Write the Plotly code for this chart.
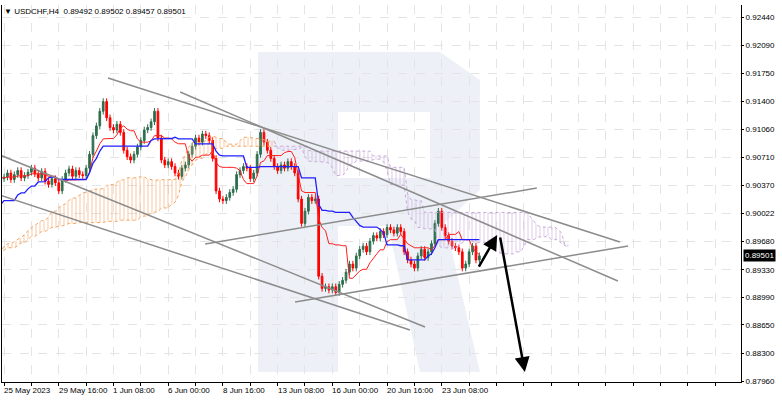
import numpy as np
import pandas as pd
import plotly.graph_objects as go

# H4 closes before the visible window (only feed the indicators)
history = [
    0.8935, 0.8930, 0.8938, 0.8944, 0.8940, 0.8948, 0.8955, 0.8950, 0.8960, 0.8966,
    0.8960, 0.8970, 0.8978, 0.8974, 0.8984, 0.8990, 0.8986, 0.8984, 0.8995, 0.9002,
    0.9000, 0.9010, 0.9018, 0.9014, 0.9024, 0.9030, 0.9025, 0.9034, 0.9040, 0.9036,
    0.9044, 0.9040, 0.9046, 0.9050, 0.9044, 0.9048, 0.9052, 0.9046, 0.9042, 0.9045,
]
# visible H4 closes, USDCHF
closes = [
    0.9047, 0.9052, 0.9044, 0.9050, 0.9055, 0.9046, 0.9049, 0.9053, 0.9058, 0.9051,
    0.9046, 0.9054, 0.9042, 0.9038, 0.9045, 0.9040, 0.9030, 0.9044, 0.9052, 0.9057,
    0.9048, 0.9055, 0.9050, 0.9049, 0.9058, 0.9075, 0.9098, 0.9110, 0.9128, 0.9140,
    0.9120, 0.9108, 0.9105, 0.9112, 0.9102, 0.9080, 0.9072, 0.9068, 0.9075, 0.9084,
    0.9092, 0.9105, 0.9108, 0.9115, 0.9128, 0.9095, 0.9068, 0.9062, 0.9066, 0.9060,
    0.9052, 0.9048, 0.9058, 0.9062, 0.9075, 0.9085, 0.9095, 0.9090, 0.9100, 0.9098,
    0.9092, 0.9070, 0.9030, 0.9020, 0.9018, 0.9022, 0.9028, 0.9032, 0.9050, 0.9055,
    0.9060, 0.9058, 0.9045, 0.9052, 0.9075, 0.9102, 0.9090, 0.9080, 0.9070, 0.9060,
    0.9055, 0.9062, 0.9058, 0.9066, 0.9060, 0.9052, 0.9020, 0.8990, 0.9005, 0.9022,
    0.9018, 0.9020, 0.8925, 0.8910, 0.8912, 0.8908, 0.8912, 0.8905, 0.8915, 0.8920,
    0.8930, 0.8940, 0.8935, 0.8950, 0.8958, 0.8962, 0.8955, 0.8968, 0.8975, 0.8972,
    0.8980, 0.8976, 0.8985, 0.8982, 0.8978, 0.8985, 0.8980, 0.8955, 0.8945, 0.8940,
    0.8935, 0.8950, 0.8958, 0.8948, 0.8955, 0.8965, 0.8990, 0.9005, 0.8985, 0.8975,
    0.8968, 0.8962, 0.8960, 0.8955, 0.8935, 0.8940, 0.8955, 0.8962, 0.8945, 0.89501,
]
tick_labels = ["25 May 2023", "29 May 16:00", "1 Jun 08:00", "6 Jun 00:00", "8 Jun 16:00",
               "13 Jun 08:00", "16 Jun 00:00", "20 Jun 16:00", "23 Jun 08:00"]
price_ticks = [0.92440, 0.92090, 0.91750, 0.91400, 0.91060, 0.90710, 0.90370, 0.90022,
               0.89680, 0.89330, 0.88990, 0.88650, 0.88300, 0.87960]
# trend lines (bar index, price)
trend_lines = [
    ((30.4, 0.91689), (180.1, 0.89671)),
    ((51.5, 0.91517), (179.5, 0.89191)),
    ((58.8, 0.89646), (155.8, 0.90335)),
    ((85.1, 0.88932), (182.5, 0.89622)),
    ((-1.2, 0.90742), (123.1, 0.88625)),
    ((-1.2, 0.90249), (118.7, 0.88588)),
]
arrow_up = ((138.6, 0.89351), (144.2, 0.89757))
arrow_down = ((145.0, 0.89745), (152.3, 0.88071))

FONT = "Liberation Sans"

allc = np.array(history + closes)
n = len(allc)
x = np.arange(n) - len(history)
o = np.concatenate([[allc[0]], allc[:-1]])
h = np.maximum(o, allc) + 0.0004
l = np.minimum(o, allc) - 0.0004
df = pd.DataFrame(dict(o=o, h=h, l=l, c=allc))

tenkan = ((df.h.rolling(9, min_periods=1).max() + df.l.rolling(9, min_periods=1).min()) / 2).values
kijun = ((df.h.rolling(26, min_periods=1).max() + df.l.rolling(26, min_periods=1).min()) / 2).values
span_a = (tenkan + kijun) / 2
span_b = (df.h.rolling(52, min_periods=1).max() + df.l.rolling(52, min_periods=1).min()).values / 2
cx = x + 26

fig = go.Figure()

# cloud, split by which span is on top
above = span_a >= span_b
start = 0
for i in range(1, n + 1):
    if i == n or above[i] != above[start]:
        seg = slice(max(start - 1, 0), i)
        col = "#f4a460" if above[start] else "#c8a8d8"
        fig.add_trace(go.Scatter(x=cx[seg], y=span_b[seg], mode="lines",
                                 line=dict(color=col, width=1, dash="dot"), hoverinfo="skip"))
        fig.add_trace(go.Scatter(x=cx[seg], y=span_a[seg], mode="lines", fill="tonexty",
                                 fillcolor="rgba(0,0,0,0)",
                                 fillpattern=dict(shape="|", fgcolor=col, size=4, solidity=0.3),
                                 line=dict(color=col, width=1, dash="dot"), hoverinfo="skip"))
        start = i

fig.add_trace(go.Scatter(x=x, y=tenkan, mode="lines", line=dict(color="#ff2020", width=1)))
fig.add_trace(go.Scatter(x=x, y=kijun, mode="lines", line=dict(color="#2020ff", width=1.3)))

fig.add_trace(go.Candlestick(
    x=x, open=df.o, high=df.h, low=df.l, close=df.c,
    increasing=dict(line=dict(color="#2e6e4e", width=1), fillcolor="#2e6e4e"),
    decreasing=dict(line=dict(color="#ff0000", width=1), fillcolor="#ff0000"),
    whiskerwidth=0,
))

for (x0, y0), (x1, y1) in trend_lines:
    fig.add_trace(go.Scatter(x=[x0, x1], y=[y0, y1], mode="lines",
                             line=dict(color="#8c8c8c", width=1.5), hoverinfo="skip"))

for (x0, y0), (x1, y1) in (arrow_up, arrow_down):
    fig.add_annotation(x=x1, y=y1, ax=x0, ay=y0, xref="x", yref="y", axref="x", ayref="y",
                       showarrow=True, arrowhead=2, arrowsize=1.2, arrowwidth=2.5,
                       arrowcolor="#000000", text="")

# watermark "R"
def px(xp, yp):
    return (xp - 2) / 739, (382 - yp) / 377

pts = [(258, 52), (440, 52), (480, 80), (480, 190), (445, 222), (480, 372), (420, 372),
       (388, 226), (338, 226), (338, 372), (258, 372)]
path = "M" + " L".join("%.4f,%.4f" % px(a, b) for a, b in pts) + " Z"
fig.add_shape(type="path", path=path, xref="paper", yref="paper", layer="below",
              fillcolor="#edf1f7", line=dict(width=0))
x0, y0 = px(338, 112)
x1, y1 = px(430, 178)
fig.add_shape(type="rect", x0=x0, y0=y0, x1=x1, y1=y1, xref="paper", yref="paper",
              layer="below", fillcolor="white", line=dict(width=0))

fig.add_annotation(x=1, y=allc[-1], xref="paper", yref="y", text="0.89501", showarrow=False,
                   xanchor="left", xshift=2, bgcolor="#000000",
                   font=dict(color="white", size=8, family=FONT), borderpad=1)
fig.add_annotation(x=0, y=1, xref="paper", yref="paper", xanchor="left", yanchor="top",
                   text="▼ USDCHF,H4  0.89492 0.89502 0.89457 0.89501", showarrow=False,
                   font=dict(size=8, color="#000000", family=FONT))

# date labels, left-aligned at their tick
for k, lab in enumerate(tick_labels):
    fig.add_annotation(x=k * 16 - 0.6, y=0, xref="x", yref="paper", yanchor="top",
                       xanchor="left", text=lab, showarrow=False, yshift=-2,
                       font=dict(size=8, color="#000000", family=FONT))

grid_vals = list(range(0, 216, 8))
fig.update_layout(
    width=782, height=402, showlegend=False, plot_bgcolor="white", paper_bgcolor="white",
    margin=dict(l=2, r=41, t=5, b=20),
    font=dict(family=FONT, size=8, color="#000000"),
    xaxis=dict(range=[-0.6, 215.5], rangeslider=dict(visible=False),
               tickvals=grid_vals, showticklabels=False,
               showgrid=True, gridcolor="#e4e4e4", griddash="dash", zeroline=False,
               showline=True, linecolor="#000000", ticks="outside", ticklen=3, tickcolor="#000"),
    yaxis=dict(range=[0.87948, 0.92588], side="right", tickvals=price_ticks,
               ticktext=["%.5f" % v for v in price_ticks],
               showgrid=True, gridcolor="#e4e4e4", griddash="dash", zeroline=False,
               showline=True, linecolor="#000000", ticks="outside", ticklen=2, tickcolor="#000",
               mirror=True),
)

fig.write_html("out.html", config={"displayModeBar": False},
               post_script="document.body.style.margin='0';")
